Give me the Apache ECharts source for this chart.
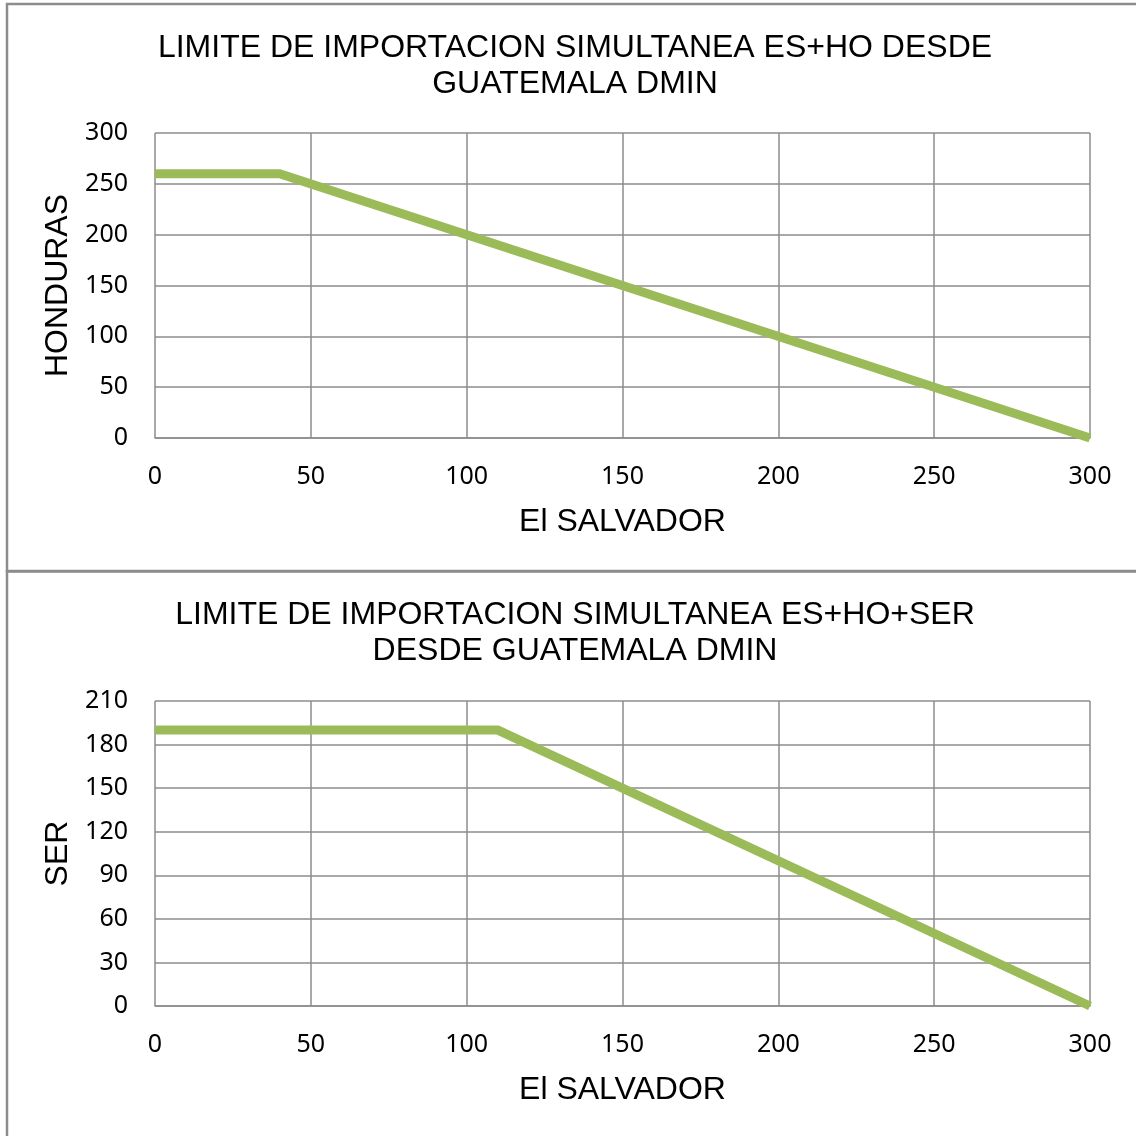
<!DOCTYPE html>
<html>
<head>
<meta charset="utf-8">
<script src="https://cdn.jsdelivr.net/npm/echarts@6/dist/echarts.min.js"></script>
<style>
html,body{margin:0;padding:0;background:#fff;}
#c{width:1136px;height:1136px;}
</style>
</head>
<body>
<div id="c"></div>
<script>
// Data
var titleTop = 'LIMITE DE IMPORTACION SIMULTANEA ES+HO DESDE\nGUATEMALA DMIN';
var titleBottom = 'LIMITE DE IMPORTACION SIMULTANEA ES+HO+SER\nDESDE GUATEMALA DMIN';
var xName = 'El SALVADOR';
var yNameTop = 'HONDURAS';
var yNameBottom = 'SER';
var topX = [0, 40, 300];
var topY = [260, 260, 0];
var bottomX = [0, 110, 300];
var bottomY = [190, 190, 0];

var chart = echarts.init(document.getElementById('c'));
var gridColor = '#8c8c8c';
var tickFont = {fontFamily: '"Noto Sans", "Open Sans", sans-serif', fontSize: 25, color: '#000'};
var nameFont = {fontFamily: '"Liberation Sans", Arial, sans-serif', fontSize: 32, color: '#000'};
var green = '#9BBB59';

function pairs(xs, ys){ return xs.map(function(x,i){ return [x, ys[i]]; }); }

function xAxis(gi){
  return {
    type: 'value', gridIndex: gi, min: 0, max: 300, interval: 50,
    name: xName, nameLocation: 'middle', nameGap: 68,
    nameTextStyle: nameFont,
    axisLine: {show: true, lineStyle: {color: gridColor, width: 1.5}},
    axisTick: {show: false},
    axisLabel: Object.assign({margin: 26}, tickFont),
    splitLine: {show: true, lineStyle: {color: gridColor, width: 1.5}}
  };
}
function yAxis(gi, max, interval, name){
  return {
    type: 'value', gridIndex: gi, min: 0, max: max, interval: interval,
    name: name, nameLocation: 'middle', nameGap: 78,
    nameTextStyle: nameFont,
    axisLine: {show: false},
    axisTick: {show: false},
    axisLabel: Object.assign({margin: 27}, tickFont),
    splitLine: {show: true, lineStyle: {color: gridColor, width: 1.5}}
  };
}

chart.setOption({
  animation: false,
  backgroundColor: '#fff',
  graphic: [
    {type: 'rect', shape: {x: 7, y: 4, width: 1200, height: 567}, style: {fill: 'none', stroke: '#8c8c8c', lineWidth: 2.5}, silent: true},
    {type: 'rect', shape: {x: 7, y: 571.5, width: 1200, height: 700}, style: {fill: 'none', stroke: '#8c8c8c', lineWidth: 2.5}, silent: true}
  ],
  title: [
    {text: titleTop, left: 570, top: 25, textAlign: 'center',
     textStyle: {fontFamily: '"Liberation Sans", Arial, sans-serif', fontSize: 32, fontWeight: 'normal', color: '#000', lineHeight: 36}},
    {text: titleBottom, left: 570, top: 592, textAlign: 'center',
     textStyle: {fontFamily: '"Liberation Sans", Arial, sans-serif', fontSize: 32, fontWeight: 'normal', color: '#000', lineHeight: 36}}
  ],
  grid: [
    {left: 155, top: 133, width: 935, height: 305},
    {left: 155, top: 701, width: 935, height: 305}
  ],
  xAxis: [xAxis(0), xAxis(1)],
  yAxis: [yAxis(0, 300, 50, yNameTop), yAxis(1, 210, 30, yNameBottom)],
  series: [
    {type: 'line', xAxisIndex: 0, yAxisIndex: 0, data: pairs(topX, topY), showSymbol: false, symbol: 'none',
     lineStyle: {color: green, width: 9, cap: 'butt', join: 'miter'}},
    {type: 'line', xAxisIndex: 1, yAxisIndex: 1, data: pairs(bottomX, bottomY), showSymbol: false, symbol: 'none',
     lineStyle: {color: green, width: 9, cap: 'butt', join: 'miter'}}
  ]
});
</script>
</body>
</html>
